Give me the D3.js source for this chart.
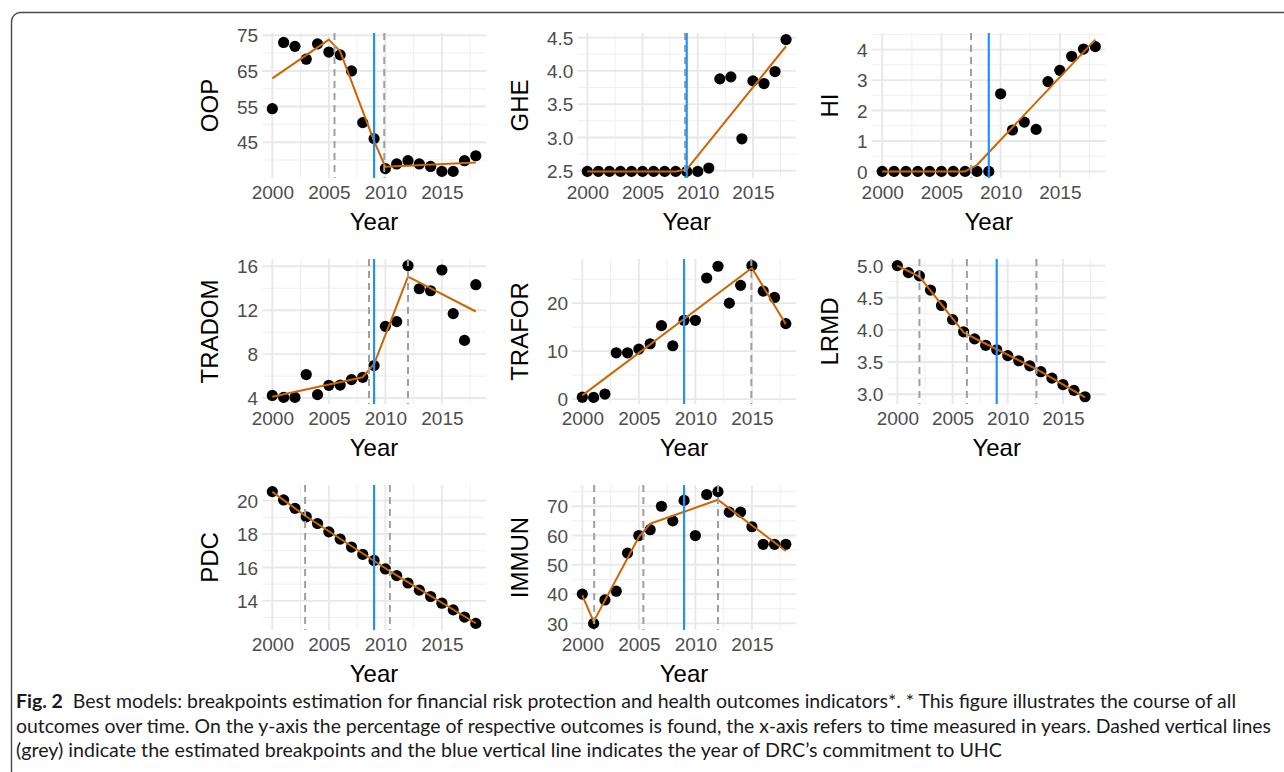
<!DOCTYPE html>
<html><head><meta charset="utf-8">
<script src="https://cdn.jsdelivr.net/npm/d3@7"></script>
<style>body{margin:0;background:#fff;} svg{display:block;}</style>
</head><body>
<svg id="fig" width="1284" height="772"></svg>
<script>
// ---------- data ----------
const years = [2000,2001,2002,2003,2004,2005,2006,2007,2008,2009,2010,2011,2012,2013,2014,2015,2016,2017,2018];
const yearsLRMD = [2000,2001,2002,2003,2004,2005,2006,2007,2008,2009,2010,2011,2012,2013,2014,2015,2016,2017];
const yearTicks = [2000,2005,2010,2015];
const commitmentYear = 2009;

const oopValues = [54.4,73.0,71.9,68.3,72.6,70.3,69.5,65.0,50.5,46.0,37.6,38.9,39.8,38.9,38.2,36.8,36.8,39.8,41.2];
const oopFitYears = [2000,2005,2006,2009,2010,2018];
const oopFitValues = [62.9,73.8,70.5,45.3,38.1,39.3];
const oopBreaks = [2005.5,2009.9];
const oopTicks = [45,55,65,75];

const gheValues = [2.49,2.49,2.49,2.49,2.49,2.49,2.49,2.49,2.49,2.49,2.49,2.54,3.88,3.91,2.98,3.85,3.81,3.99,4.47];
const gheFitYears = [2000,2008,2009,2018];
const gheFitValues = [2.49,2.49,2.52,4.37];
const gheBreaks = [2008.85];
const gheTicks = [2.5,3.0,3.5,4.0,4.5];

const hiValues = [0,0,0,0,0,0,0,0,0,0,2.55,1.36,1.62,1.38,2.95,3.32,3.78,4.02,4.10];
const hiFitYears = [2000,2007,2008,2018];
const hiFitValues = [0,0,0.21,4.33];
const hiBreaks = [2007.5];
const hiTicks = [0,1,2,3,4];

const tradomValues = [4.24,4.06,4.06,6.14,4.31,5.16,5.18,5.68,5.89,6.96,10.53,10.96,16.06,13.95,13.77,15.66,11.69,9.25,14.32];
const tradomFitYears = [2000,2008,2009,2012,2018];
const tradomFitValues = [4.12,5.9,7.1,15.05,11.88];
const tradomBreaks = [2008.55,2012.0];
const tradomTicks = [4,8,12,16];

const traforValues = [0.4,0.35,1.05,9.65,9.65,10.42,11.54,15.31,11.12,16.43,16.43,25.24,27.69,20.0,23.71,27.83,22.52,21.19,15.73];
const traforFitYears = [2000,2015,2018];
const traforFitValues = [0.77,27.34,15.6];
const traforBreaks = [2014.95];
const traforTicks = [0,10,20];

const lrmdValues = [5.0,4.89,4.84,4.62,4.38,4.16,3.97,3.86,3.76,3.69,3.60,3.52,3.44,3.35,3.25,3.15,3.06,2.96];
const lrmdFitYears = [2000,2002,2006,2007,2012,2013,2017];
const lrmdFitValues = [5.0,4.83,3.96,3.87,3.44,3.35,2.95];
const lrmdBreaks = [2002.0,2006.3,2012.6];
const lrmdTicks = [3.0,3.5,4.0,4.5,5.0];

const pdcValues = [20.54,20.04,19.54,19.03,18.63,18.13,17.70,17.22,16.78,16.42,15.91,15.51,15.07,14.64,14.26,13.86,13.46,13.03,12.65];
const pdcFitYears = [2000,2003,2010,2011,2018];
const pdcFitValues = [20.52,19.05,15.95,15.52,12.66];
const pdcBreaks = [2002.9,2010.4];
const pdcTicks = [14,16,18,20];

const immunValues = [40,30,38,41,54,60,62,70,65,72,60,74,75,68,68,63,57,57,57];
const immunFitYears = [2000,2001,2005,2006,2012,2018];
const immunFitValues = [39.6,30.6,59.5,64.0,72.2,54.7];
const immunBreaks = [2001.05,2005.4,2012.0];
const immunTicks = [30,40,50,60,70];

const captionLines = [
  ["Fig. 2", "  Best models: breakpoints estimation for financial risk protection and health outcomes indicators*. * This figure illustrates the course of all"],
  ["", "outcomes over time. On the y-axis the percentage of respective outcomes is found, the x-axis refers to time measured in years. Dashed vertical lines"],
  ["", "(grey) indicate the estimated breakpoints and the blue vertical line indicates the year of DRC\u2019s commitment to UHC"]
];

// ---------- layout ----------
const panels = [
  {name:"OOP", x:years, y:oopValues, fx:oopFitYears, fy:oopFitValues, br:oopBreaks, ticks:oopTicks, fmt:d3.format("d"), col:0, row:0},
  {name:"GHE", x:years, y:gheValues, fx:gheFitYears, fy:gheFitValues, br:gheBreaks, ticks:gheTicks, fmt:d3.format(".1f"), col:1, row:0},
  {name:"HI", x:years, y:hiValues, fx:hiFitYears, fy:hiFitValues, br:hiBreaks, ticks:hiTicks, fmt:d3.format("d"), col:2, row:0},
  {name:"TRADOM", x:years, y:tradomValues, fx:tradomFitYears, fy:tradomFitValues, br:tradomBreaks, ticks:tradomTicks, fmt:d3.format("d"), col:0, row:1},
  {name:"TRAFOR", x:years, y:traforValues, fx:traforFitYears, fy:traforFitValues, br:traforBreaks, ticks:traforTicks, fmt:d3.format("d"), col:1, row:1},
  {name:"LRMD", x:yearsLRMD, y:lrmdValues, fx:lrmdFitYears, fy:lrmdFitValues, br:lrmdBreaks, ticks:lrmdTicks, fmt:d3.format(".1f"), col:2, row:1},
  {name:"PDC", x:years, y:pdcValues, fx:pdcFitYears, fy:pdcFitValues, br:pdcBreaks, ticks:pdcTicks, fmt:d3.format("d"), col:0, row:2},
  {name:"IMMUN", x:years, y:immunValues, fx:immunFitYears, fy:immunFitValues, br:immunBreaks, ticks:immunTicks, fmt:d3.format("d"), col:1, row:2}
];

const colLefts = [190, 500, 810];
const colW = 310;
const rowTops = [20, 246, 472];
const FONT = "'Liberation Sans', Arial, sans-serif";
const TICKSIZE = 19;

const svg = d3.select("#fig");
svg.append("rect").attr("x",0).attr("y",0).attr("width",1284).attr("height",772).attr("fill","#fff");
svg.append("rect").attr("x",11.5).attr("y",12.5).attr("width",1400).attr("height",900)
  .attr("rx",9).attr("fill","none").attr("stroke","#4a4a4a").attr("stroke-width",1.4);

function expand(ext){ const r = ext[1]-ext[0]; return [ext[0]-0.05*r, ext[1]+0.05*r]; }
function minorBreaks(b, dom){
  const step = b[1]-b[0];
  const ext = [b[0]-step, ...b, b[b.length-1]+step];
  const out = [];
  for(let i=0;i<ext.length-1;i++){ const m=(ext[i]+ext[i+1])/2; if(m>=dom[0] && m<=dom[1]) out.push(m); }
  return out;
}

const meas = svg.append("text").attr("font-family",FONT).attr("font-size",TICKSIZE).attr("visibility","hidden");
function textW(s){ meas.text(s); return meas.node().getComputedTextLength(); }

panels.forEach(p => {
  const cl = colLefts[p.col], rt = rowTops[p.row];
  const labW = d3.max(p.ticks, t => textW(p.fmt(t)));
  const left = cl + 47 + labW + 4, right = cl + colW - 14;
  const top = rt + 13, bottom = rt + 158;

  const xDom = expand([2000, 2018]);
  const allY = p.y.concat(p.fy);
  const yDom = expand(d3.extent(allY));
  const x = d3.scaleLinear().domain(xDom).range([left, right]);
  const y = d3.scaleLinear().domain(yDom).range([bottom, top]);
  const g = svg.append("g");

  const xMinor = minorBreaks(yearTicks, xDom), yMinor = minorBreaks(p.ticks, yDom);
  g.selectAll(null).data(xMinor).join("line").attr("x1",d=>x(d)).attr("x2",d=>x(d)).attr("y1",top).attr("y2",bottom)
    .attr("stroke","#EFEFEF").attr("stroke-width",1);
  g.selectAll(null).data(yMinor).join("line").attr("y1",d=>y(d)).attr("y2",d=>y(d)).attr("x1",left).attr("x2",right)
    .attr("stroke","#EFEFEF").attr("stroke-width",1);
  g.selectAll(null).data(yearTicks).join("line").attr("x1",d=>x(d)).attr("x2",d=>x(d)).attr("y1",top).attr("y2",bottom)
    .attr("stroke","#E8E8E8").attr("stroke-width",1.9);
  g.selectAll(null).data(p.ticks).join("line").attr("y1",d=>y(d)).attr("y2",d=>y(d)).attr("x1",left).attr("x2",right)
    .attr("stroke","#E8E8E8").attr("stroke-width",1.9);

  const xAxis = g.append("g").attr("transform",`translate(0,${bottom})`)
    .call(d3.axisBottom(x).tickValues(yearTicks).tickFormat(d3.format("d")).tickSize(0).tickPadding(0));
  xAxis.select(".domain").remove();
  xAxis.selectAll("text").attr("y", 0).attr("dy", 0).attr("transform", "translate(0,21)")
    .attr("font-family",FONT).attr("font-size",TICKSIZE).attr("fill","#4D4D4D");
  const yAxis = g.append("g").attr("transform",`translate(${left},0)`)
    .call(d3.axisLeft(y).tickValues(p.ticks).tickFormat(p.fmt).tickSize(0).tickPadding(4));
  yAxis.select(".domain").remove();
  yAxis.selectAll("text").attr("font-family",FONT).attr("font-size",TICKSIZE).attr("fill","#4D4D4D").attr("dy","0.35em");

  g.selectAll(null).data(p.x.map((yr,i)=>[yr,p.y[i]])).join("circle")
    .attr("cx",d=>x(d[0])).attr("cy",d=>y(d[1])).attr("r",5.6).attr("fill","#000");
  const line = d3.line().x(d=>x(d[0])).y(d=>y(d[1]));
  g.append("path").datum(p.fx.map((yr,i)=>[yr,p.fy[i]])).attr("d",line)
    .attr("fill","none").attr("stroke","#CD6600").attr("stroke-width",2).attr("stroke-linejoin","round");
  g.selectAll(null).data(p.br).join("line").attr("x1",d=>x(d)).attr("x2",d=>x(d)).attr("y1",top).attr("y2",bottom)
    .attr("stroke","#A0A0A0").attr("stroke-width",2).attr("stroke-dasharray","7,5");
  g.append("line").attr("x1",x(commitmentYear)).attr("x2",x(commitmentYear)).attr("y1",top).attr("y2",bottom)
    .attr("stroke","#1E90FF").attr("stroke-width",2.2);

  g.append("text").attr("x",(left+right)/2).attr("y",rt+210).attr("text-anchor","middle")
    .attr("font-family",FONT).attr("font-size",24).attr("fill","#000").text("Year");
  g.append("text").attr("transform",`translate(${cl+28},${(top+bottom)/2}) rotate(-90)`).attr("text-anchor","middle")
    .attr("font-family",FONT).attr("font-size",24).attr("fill","#000").text(p.name);
});

const capBase = [708, 733, 757];
const capLen = [1220, 1255, 986];
const CAPFONT = "Lato, 'Liberation Sans', sans-serif";
captionLines.forEach((ln,i) => {
  const t = svg.append("text").attr("x",16).attr("y",capBase[i]).attr("font-family",CAPFONT).attr("font-size",19)
    .attr("fill","#1a1a1a").attr("textLength",capLen[i]).attr("lengthAdjust","spacingAndGlyphs");
  if (ln[0]) t.append("tspan").attr("font-weight","bold").text(ln[0]);
  t.append("tspan").attr("xml:space","preserve").style("white-space","pre").text(ln[1]);
});
meas.remove();
</script>
</body></html>
